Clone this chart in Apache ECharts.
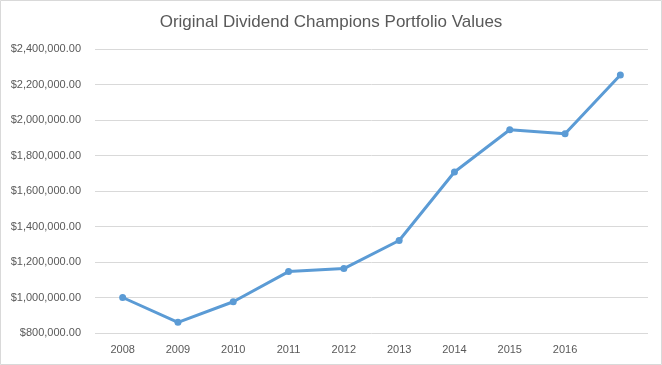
<!DOCTYPE html>
<html>
<head>
<meta charset="utf-8">
<script src="https://cdn.jsdelivr.net/npm/echarts@6/dist/echarts.min.js"></script>
<style>
html,body{margin:0;padding:0;background:#fff;}
#c{width:662px;height:365px;}
</style>
</head>
<body>
<div id="c"></div>
<script>
const categories = ['2008','2009','2010','2011','2012','2013','2014','2015','2016',''];
const portfolioValues = [1000000, 860000, 976000, 1146000, 1163000, 1321000, 1707000, 1945000, 1922000, 2254000];
const yTicks = { min: 800000, max: 2400000, interval: 200000 };
const titleText = 'Original Dividend Champions Portfolio Values';

const FONT = '"Liberation Sans", Arial, sans-serif';
const chart = echarts.init(document.getElementById('c'));
chart.setOption({
  animation: false,
  backgroundColor: '#fff',
  title: {
    text: titleText,
    left: 'center',
    top: 9,
    textStyle: { fontFamily: FONT, fontSize: 17, fontWeight: 'normal', color: '#595959' }
  },
  graphic: [{
    type: 'rect',
    shape: { x: 0.5, y: 0.5, width: 661, height: 364 },
    style: { fill: 'none', stroke: '#d9d9d9', lineWidth: 1 },
    silent: true
  }],
  grid: { left: 95, right: 14, top: 49, bottom: 32, containLabel: false },
  xAxis: {
    type: 'category',
    data: categories,
    boundaryGap: true,
    axisLine: { show: false },
    axisTick: { show: false },
    axisLabel: { fontFamily: FONT, fontSize: 11, color: '#595959', margin: 11 }
  },
  yAxis: {
    type: 'value',
    min: yTicks.min,
    max: yTicks.max,
    interval: yTicks.interval,
    axisLine: { show: false },
    axisTick: { show: false },
    splitLine: { lineStyle: { color: '#d9d9d9', width: 1 } },
    axisLabel: {
      fontFamily: FONT, fontSize: 11, color: '#595959', margin: 14,
      formatter: v => '$' + v.toLocaleString('en-US', { minimumFractionDigits: 2, maximumFractionDigits: 2 })
    }
  },
  series: [{
    type: 'line',
    data: portfolioValues,
    symbol: 'circle',
    symbolSize: 7,
    lineStyle: { color: '#5b9bd5', width: 3 },
    itemStyle: { color: '#5b9bd5' }
  }]
});
</script>
</body>
</html>
